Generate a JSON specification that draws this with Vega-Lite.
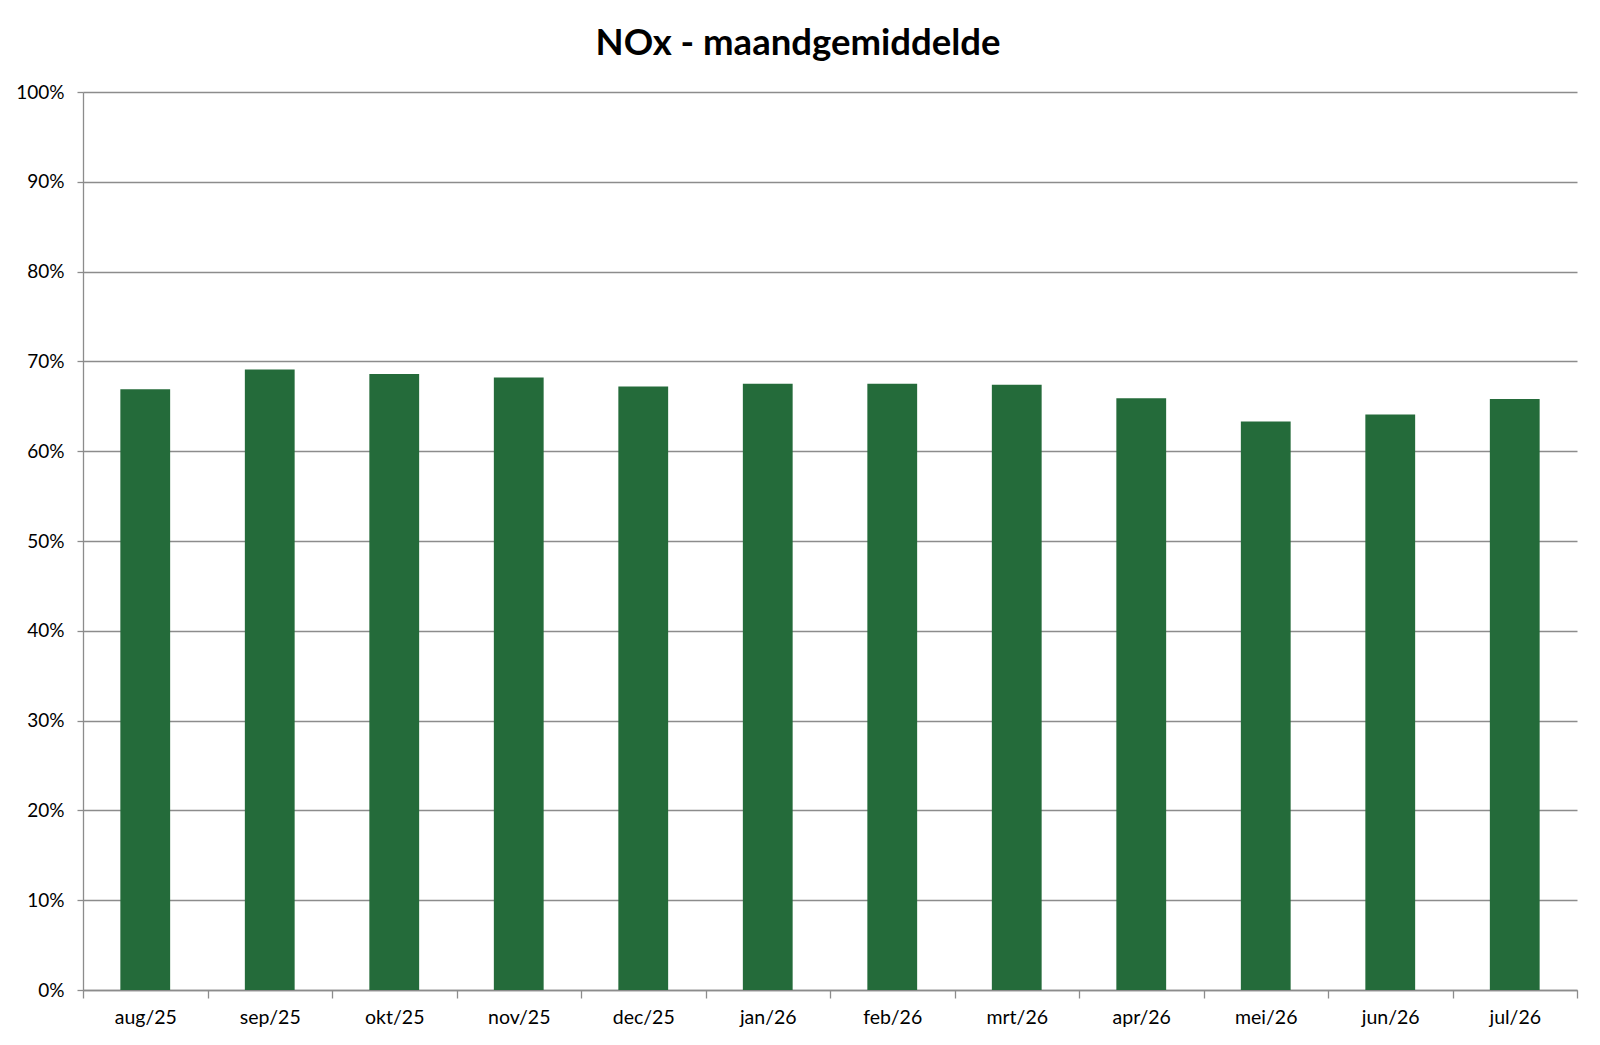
{
  "$schema": "https://vega.github.io/schema/vega-lite/v6.json",
  "description": "NOx - maandgemiddelde per maand",
  "autosize": {"type": "none"},
  "width": 1494,
  "height": 898,
  "padding": {"left": 83, "top": 92, "right": 23, "bottom": 55},
  "background": "white",
  "title": {
    "text": "NOx - maandgemiddelde",
    "font": "Lato",
    "fontSize": 36.5,
    "fontWeight": "bold",
    "color": "black",
    "anchor": "middle",
    "dx": -32,
    "offset": 21
  },
  "data": {
    "values": [
      {"maand": "aug/25", "waarde": 0.669},
      {"maand": "sep/25", "waarde": 0.691},
      {"maand": "okt/25", "waarde": 0.686},
      {"maand": "nov/25", "waarde": 0.682},
      {"maand": "dec/25", "waarde": 0.672},
      {"maand": "jan/26", "waarde": 0.675},
      {"maand": "feb/26", "waarde": 0.675},
      {"maand": "mrt/26", "waarde": 0.674},
      {"maand": "apr/26", "waarde": 0.659},
      {"maand": "mei/26", "waarde": 0.633},
      {"maand": "jun/26", "waarde": 0.641},
      {"maand": "jul/26", "waarde": 0.658}
    ]
  },
  "mark": {"type": "bar", "color": "#246b3a", "width": {"band": 0.4}},
  "encoding": {
    "x": {
      "field": "maand",
      "type": "nominal",
      "sort": null,
      "title": null,
      "scale": {"paddingInner": 0, "paddingOuter": 0},
      "axis": {
        "labelAngle": 0,
        "labelFont": "Lato",
        "labelFontSize": 19.5,
        "labelColor": "black",
        "labelPadding": 10,
        "tickBand": "extent",
        "tickSize": 8,
        "tickColor": "#8c8c8c",
        "tickWidth": 1.3,
        "domainColor": "#8c8c8c",
        "domainWidth": 1.3,
        "grid": false
      }
    },
    "y": {
      "field": "waarde",
      "type": "quantitative",
      "title": null,
      "scale": {"domain": [0, 1], "nice": false},
      "axis": {
        "format": ".0%",
        "values": [0, 0.1, 0.2, 0.3, 0.4, 0.5, 0.6, 0.7, 0.8, 0.9, 1],
        "labelFont": "Lato",
        "labelFontSize": 19,
        "labelColor": "black",
        "labelPadding": 13,
        "tickSize": 6,
        "tickColor": "#8c8c8c",
        "tickWidth": 1.3,
        "domainColor": "#8c8c8c",
        "domainWidth": 1.3,
        "gridColor": "#8c8c8c",
        "gridWidth": 1.3,
        "gridOpacity": 1
      }
    }
  },
  "config": {"view": {"stroke": null}}
}
